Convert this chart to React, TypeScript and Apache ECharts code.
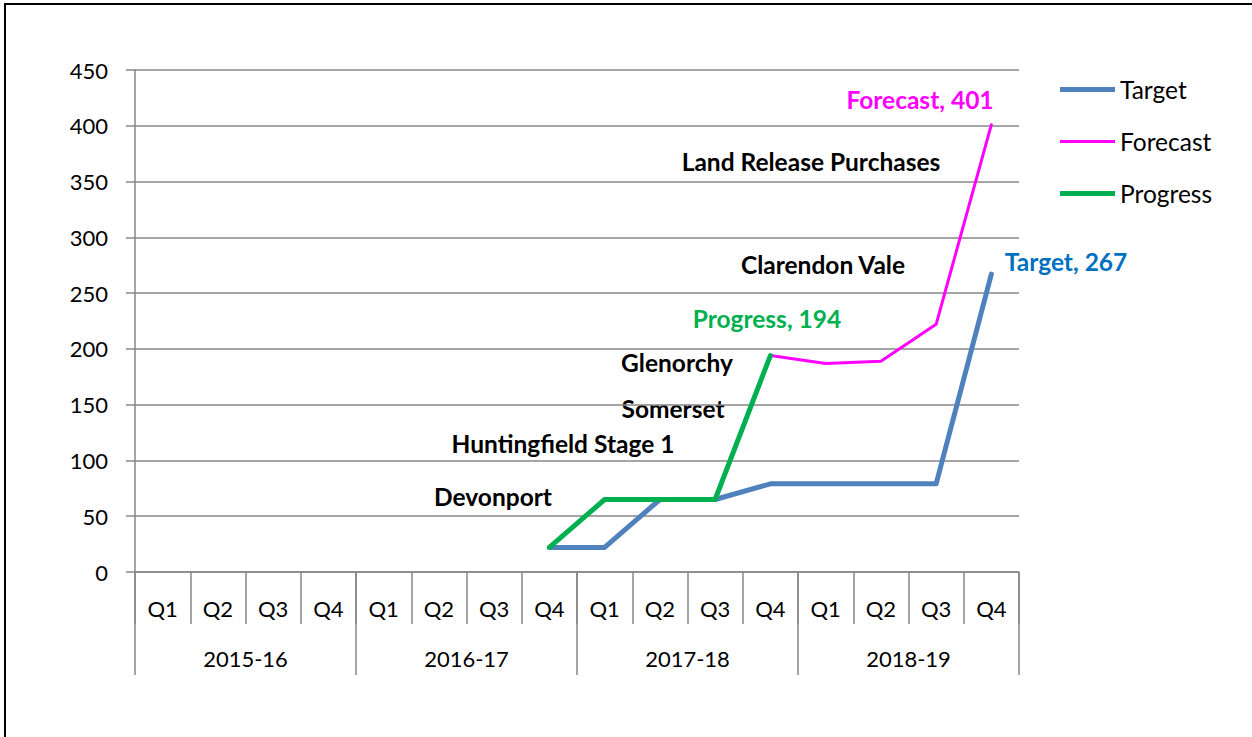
import React, { useEffect, useRef } from "react";
import * as echarts from "echarts";

const quarters = ["Q1","Q2","Q3","Q4","Q1","Q2","Q3","Q4","Q1","Q2","Q3","Q4","Q1","Q2","Q3","Q4"];
const years = ["2015-16","2016-17","2017-18","2018-19"];
const target = [null,null,null,null,null,null,null,22,22,65,65,79,79,79,79,267];
const forecast = [null,null,null,null,null,null,null,null,null,null,null,194,187,189,222,401];
const progress = [null,null,null,null,null,null,null,22,65,65,65,194,null,null,null,null];
const yTicks = { min: 0, max: 450, interval: 50 };

const annotations = [
  { text: "Land Release Purchases", x: 811, y: 161 },
  { text: "Clarendon Vale", x: 823, y: 264 },
  { text: "Glenorchy", x: 677, y: 362 },
  { text: "Somerset", x: 673, y: 408 },
  { text: "Huntingfield Stage 1", x: 563, y: 443 },
  { text: "Devonport", x: 493, y: 496 },
];
const seriesLabels = [
  { text: "Forecast, 401", x: 920, y: 99, color: "#FF00FF" },
  { text: "Target, 267", x: 1066, y: 261, color: "#0070C0" },
  { text: "Progress, 194", x: 767, y: 318, color: "#00B050" },
];

const FONT = "Lato";
const GRID = "#878787";
const thickIcon = "path://M0,0L55,0L55,5L0,5Z";
const thinIcon = "path://M0,0L55,0L55,3L0,3Z";

export default function App() {
  const ref = useRef<HTMLDivElement>(null);
  useEffect(() => {
    document.body.style.margin = "0";
    const chart = echarts.init(ref.current!, null, { renderer: "svg" });
    chart.setOption({
      animation: false,
      backgroundColor: "#fff",
      textStyle: { fontFamily: FONT },
      grid: { left: 135, right: 233, top: 70, bottom: 165, containLabel: false },
      legend: {
        orient: "vertical",
        left: 1060,
        top: 77,
        padding: 0,
        itemWidth: 55,
        itemHeight: 20,
        itemGap: 27,
        symbolKeepAspect: true,
        textStyle: { fontSize: 24.5, color: "#000", fontFamily: FONT },
        data: [
          { name: "Target", icon: thickIcon },
          { name: "Forecast", icon: thinIcon },
          { name: "Progress", icon: thickIcon },
        ],
      },
      xAxis: [
        {
          type: "category",
          data: quarters,
          position: "bottom",
          boundaryGap: true,
          axisLine: { show: true, lineStyle: { color: GRID, width: 1.5 } },
          axisTick: { show: true, interval: 0, length: 52, lineStyle: { color: GRID, width: 1.5 } },
          axisLabel: { interval: 0, margin: 25, fontSize: 22, color: "#000", fontFamily: FONT },
        },
        {
          type: "category",
          data: years,
          position: "bottom",
          boundaryGap: true,
          axisLine: { show: false },
          axisTick: { show: true, interval: 0, length: 103, lineStyle: { color: GRID, width: 1.5 } },
          axisLabel: { interval: 0, margin: 75, fontSize: 22, color: "#000", fontFamily: FONT },
        },
      ],
      yAxis: {
        type: "value",
        min: yTicks.min,
        max: yTicks.max,
        interval: yTicks.interval,
        axisLine: { show: true, lineStyle: { color: GRID, width: 1.5 } },
        axisTick: { show: true, length: 9, lineStyle: { color: GRID, width: 1.5 } },
        splitLine: { show: true, lineStyle: { color: GRID, width: 1.5 } },
        axisLabel: { margin: 27, fontSize: 22, color: "#000", fontFamily: FONT },
      },
      series: [
        {
          name: "Target",
          type: "line",
          data: target,
          symbol: "none",
          color: "#4F81BD",
          lineStyle: { color: "#4F81BD", width: 5, cap: "round", join: "round" },
        },
        {
          name: "Forecast",
          type: "line",
          data: forecast,
          symbol: "none",
          color: "#FF00FF",
          lineStyle: { color: "#FF00FF", width: 3, cap: "round", join: "round" },
        },
        {
          name: "Progress",
          type: "line",
          data: progress,
          symbol: "none",
          color: "#00B050",
          lineStyle: { color: "#00B050", width: 5, cap: "round", join: "round" },
        },
      ],
      graphic: [
        {
          type: "rect",
          shape: { x: 5, y: 4, width: 1260, height: 760 },
          style: { fill: "none", stroke: "#000", lineWidth: 2 },
          silent: true,
        },
        ...annotations.map((a) => ({
          type: "text",
          x: a.x,
          y: a.y,
          style: {
            text: a.text,
            fontFamily: FONT,
            fontWeight: "bold",
            fontSize: 24.5,
            fill: "#000",
            align: "center",
            verticalAlign: "middle",
          },
        })),
        ...seriesLabels.map((a) => ({
          type: "text",
          x: a.x,
          y: a.y,
          style: {
            text: a.text,
            fontFamily: FONT,
            fontWeight: "bold",
            fontSize: 24.5,
            fill: a.color,
            align: "center",
            verticalAlign: "middle",
          },
        })),
      ],
    });
    return () => chart.dispose();
  }, []);
  return <div ref={ref} style={{ position: "absolute", left: 0, top: 0, width: 1252, height: 737 }} />;
}
